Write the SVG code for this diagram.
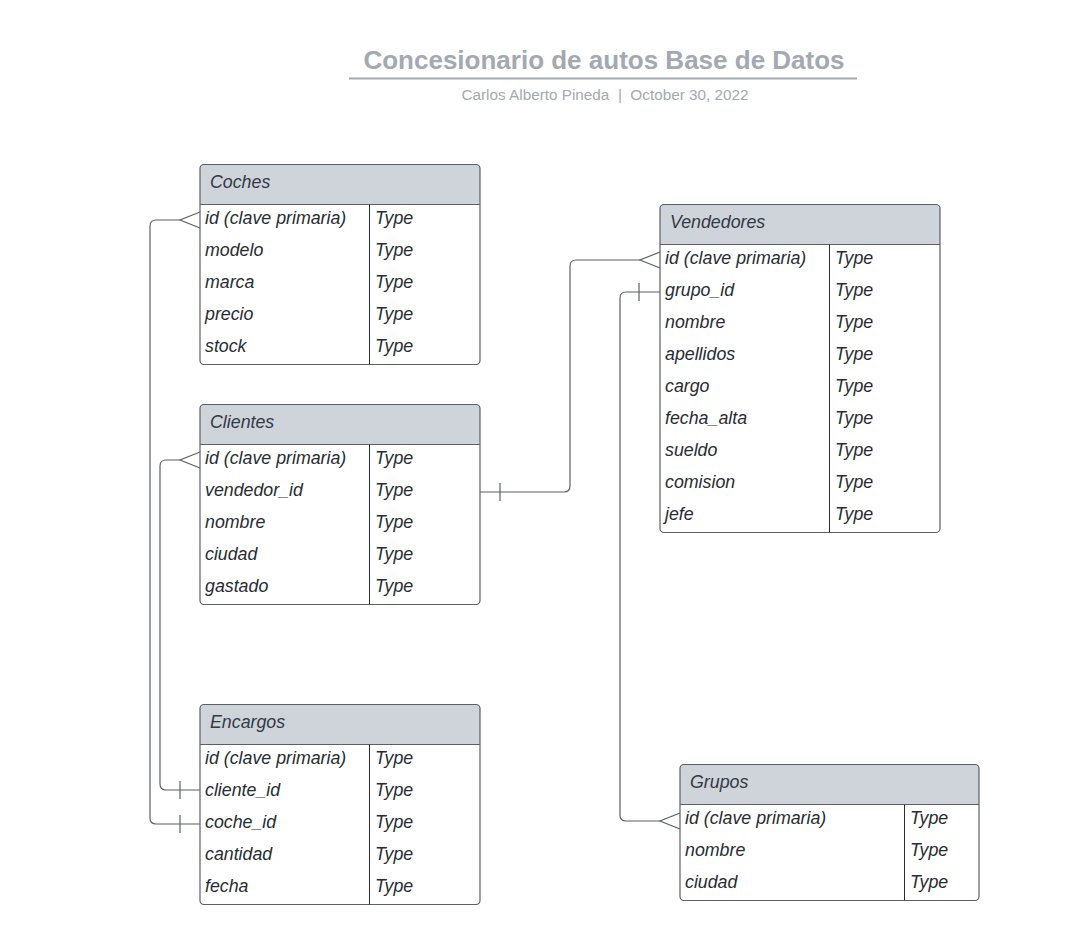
<svg xmlns="http://www.w3.org/2000/svg" width="1068" height="945" viewBox="0 0 1068 945">
<style>
.title{font-family:"Liberation Sans",Arial,sans-serif;font-weight:bold;font-size:26px;fill:#a3a9b2}
.sub{font-family:"Liberation Sans",Arial,sans-serif;font-size:15.3px;fill:#a3a9b2}
.hdr{font-family:"Liberation Sans",Arial,sans-serif;font-style:italic;font-size:17.8px;fill:#333a45}
.f{font-family:"Liberation Sans",Arial,sans-serif;font-style:italic;font-size:17.8px;fill:#282c33}
.box{fill:none;stroke:#5a5f68;stroke-width:1.2}
.head{fill:#cfd4db}
.sep{stroke:#5a5f68;stroke-width:1.2}
.div{stroke:#282c33;stroke-width:1}
.conn{fill:none;stroke:#5a5f68;stroke-width:1.2}
</style>
<rect width="1068" height="945" fill="#ffffff"/>
<g id="title">
<text class="title" x="604" y="69" text-anchor="middle">Concesionario de autos Base de Datos</text>
<line x1="349" y1="78.5" x2="857" y2="78.5" stroke="#a3a9b2" stroke-width="2"/>
<text class="sub" x="605" y="100" text-anchor="middle" xml:space="preserve">Carlos Alberto Pineda  |  October 30, 2022</text>
</g>
<g id="connectors">
<path class="conn" d="M180,220 H156 Q150,220 150,226 V818 Q150,824 156,824 H200"/>
<path class="conn" d="M200,212 L180,220 L200,228"/>
<line class="conn" x1="180" y1="815" x2="180" y2="833"/>
<path class="conn" d="M180,460 H166 Q160,460 160,466 V784 Q160,790 166,790 H200"/>
<path class="conn" d="M200,452 L180,460 L200,468"/>
<line class="conn" x1="180" y1="781" x2="180" y2="799"/>
<path class="conn" d="M640,260 H576 Q570,260 570,266 V486 Q570,492 564,492 H480"/>
<path class="conn" d="M660,252 L640,260 L660,268"/>
<line class="conn" x1="500" y1="483" x2="500" y2="501"/>
<path class="conn" d="M660,292 H626 Q620,292 620,298 V815 Q620,821 626,821 H660"/>
<path class="conn" d="M680,813 L660,821 L680,829"/>
<line class="conn" x1="639" y1="283" x2="639" y2="301"/>
</g>
<g id="coches">
<path class="head" d="M204,164.5 H476 Q480,164.5 480,168.5 V204 H200 V168.5 Q200,164.5 204,164.5 Z"/>
<rect class="box" x="200" y="164.5" width="280" height="200" rx="4"/>
<line class="sep" x1="200" y1="204.5" x2="480" y2="204.5"/>
<line class="div" x1="369.5" y1="204.5" x2="369.5" y2="364.5"/>
<text class="hdr" x="210" y="188">Coches</text>
<text class="f" x="205" y="224">id (clave primaria)</text><text class="f" x="375" y="224">Type</text>
<text class="f" x="205" y="256">modelo</text><text class="f" x="375" y="256">Type</text>
<text class="f" x="205" y="288">marca</text><text class="f" x="375" y="288">Type</text>
<text class="f" x="205" y="320">precio</text><text class="f" x="375" y="320">Type</text>
<text class="f" x="205" y="352">stock</text><text class="f" x="375" y="352">Type</text>
</g>
<g id="clientes">
<path class="head" d="M204,404.5 H476 Q480,404.5 480,408.5 V444 H200 V408.5 Q200,404.5 204,404.5 Z"/>
<rect class="box" x="200" y="404.5" width="280" height="200" rx="4"/>
<line class="sep" x1="200" y1="444.5" x2="480" y2="444.5"/>
<line class="div" x1="369.5" y1="444.5" x2="369.5" y2="604.5"/>
<text class="hdr" x="210" y="428">Clientes</text>
<text class="f" x="205" y="464">id (clave primaria)</text><text class="f" x="375" y="464">Type</text>
<text class="f" x="205" y="496">vendedor_id</text><text class="f" x="375" y="496">Type</text>
<text class="f" x="205" y="528">nombre</text><text class="f" x="375" y="528">Type</text>
<text class="f" x="205" y="560">ciudad</text><text class="f" x="375" y="560">Type</text>
<text class="f" x="205" y="592">gastado</text><text class="f" x="375" y="592">Type</text>
</g>
<g id="encargos">
<path class="head" d="M204,704.5 H476 Q480,704.5 480,708.5 V744 H200 V708.5 Q200,704.5 204,704.5 Z"/>
<rect class="box" x="200" y="704.5" width="280" height="200" rx="4"/>
<line class="sep" x1="200" y1="744.5" x2="480" y2="744.5"/>
<line class="div" x1="369.5" y1="744.5" x2="369.5" y2="904.5"/>
<text class="hdr" x="210" y="728">Encargos</text>
<text class="f" x="205" y="764">id (clave primaria)</text><text class="f" x="375" y="764">Type</text>
<text class="f" x="205" y="796">cliente_id</text><text class="f" x="375" y="796">Type</text>
<text class="f" x="205" y="828">coche_id</text><text class="f" x="375" y="828">Type</text>
<text class="f" x="205" y="860">cantidad</text><text class="f" x="375" y="860">Type</text>
<text class="f" x="205" y="892">fecha</text><text class="f" x="375" y="892">Type</text>
</g>
<g id="vendedores">
<path class="head" d="M664,204.5 H936 Q940,204.5 940,208.5 V244 H660 V208.5 Q660,204.5 664,204.5 Z"/>
<rect class="box" x="660" y="204.5" width="280" height="328" rx="4"/>
<line class="sep" x1="660" y1="244.5" x2="940" y2="244.5"/>
<line class="div" x1="829.5" y1="244.5" x2="829.5" y2="532.5"/>
<text class="hdr" x="670" y="228">Vendedores</text>
<text class="f" x="665" y="264">id (clave primaria)</text><text class="f" x="835" y="264">Type</text>
<text class="f" x="665" y="296">grupo_id</text><text class="f" x="835" y="296">Type</text>
<text class="f" x="665" y="328">nombre</text><text class="f" x="835" y="328">Type</text>
<text class="f" x="665" y="360">apellidos</text><text class="f" x="835" y="360">Type</text>
<text class="f" x="665" y="392">cargo</text><text class="f" x="835" y="392">Type</text>
<text class="f" x="665" y="424">fecha_alta</text><text class="f" x="835" y="424">Type</text>
<text class="f" x="665" y="456">sueldo</text><text class="f" x="835" y="456">Type</text>
<text class="f" x="665" y="488">comision</text><text class="f" x="835" y="488">Type</text>
<text class="f" x="665" y="520">jefe</text><text class="f" x="835" y="520">Type</text>
</g>
<g id="grupos">
<path class="head" d="M684,764.5 H975 Q979,764.5 979,768.5 V804 H680 V768.5 Q680,764.5 684,764.5 Z"/>
<rect class="box" x="680" y="764.5" width="299" height="136" rx="4"/>
<line class="sep" x1="680" y1="804.5" x2="979" y2="804.5"/>
<line class="div" x1="904.5" y1="804.5" x2="904.5" y2="900.5"/>
<text class="hdr" x="690" y="788">Grupos</text>
<text class="f" x="685" y="824">id (clave primaria)</text><text class="f" x="910" y="824">Type</text>
<text class="f" x="685" y="856">nombre</text><text class="f" x="910" y="856">Type</text>
<text class="f" x="685" y="888">ciudad</text><text class="f" x="910" y="888">Type</text>
</g>
</svg>
